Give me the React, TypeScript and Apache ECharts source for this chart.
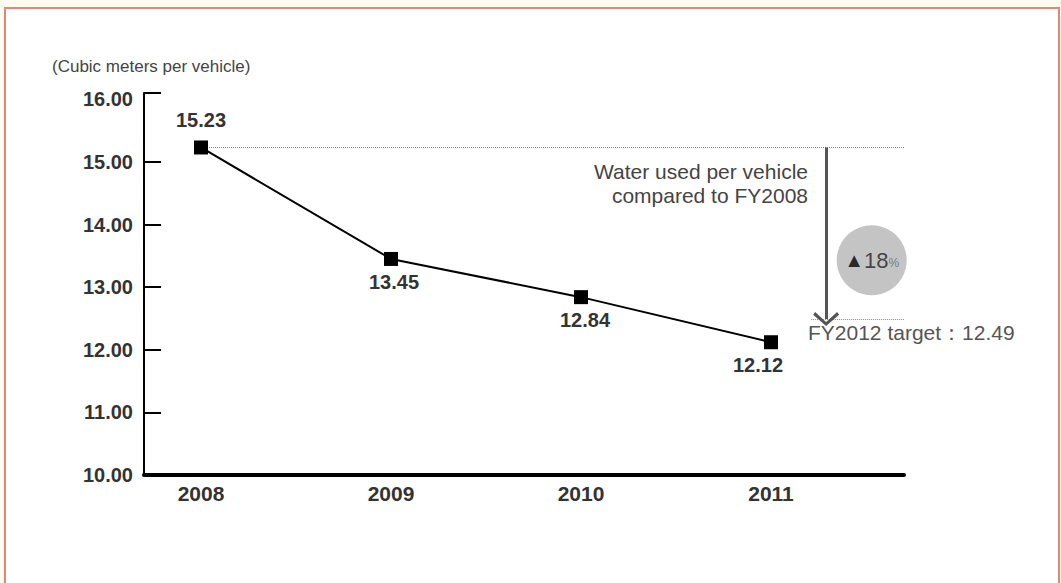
import React, { useEffect, useRef } from "react";
import * as echarts from "echarts";

const years = [2008, 2009, 2010, 2011];
const water = [15.23, 13.45, 12.84, 12.12];
const yTicks = [10, 11, 12, 13, 14, 15, 16];
const baseValue = 15.23;
const targetValue = 12.49;
const reductionPct = "18";
const unitLabel = "(Cubic meters per vehicle)";
const noteLines = ["Water used per vehicle", "compared to FY2008"];
const targetLabel = "FY2012 target\uFF1A12.49";

const FONT = '"Liberation Sans", Arial, Helvetica, sans-serif';

export default function App() {
  const ref = useRef<HTMLDivElement>(null);
  useEffect(() => {
    if (!ref.current) return;
    const chart = echarts.init(ref.current, undefined, { renderer: "svg" });
    const arrowX = 2011.29;
    const chevron = "path://M13 0 L26 11 L24 13.5 L13 4 L2 13.5 L0 11 Z";
    const labelOffsets = [[0, 0], [3, 0], [4, 0], [-13, 0]];
    chart.setOption({
      animation: false,
      backgroundColor: "#fffbef",
      textStyle: { fontFamily: FONT },
      grid: { left: 144, right: 157, top: 93, bottom: 108 },
      graphic: [
        {
          type: "rect",
          z: -10,
          silent: true,
          shape: { x: 5, y: 8, width: 1054, height: 600 },
          style: { fill: "#ffffff", stroke: "#e8847c", lineWidth: 2 },
        },
        {
          type: "text",
          x: 52,
          y: 58,
          style: { text: unitLabel, fontSize: 17, fill: "#444", fontFamily: FONT },
        },
        {
          type: "text",
          x: 808,
          y: 159,
          style: {
            text: noteLines.join("\n"),
            fontSize: 21,
            lineHeight: 24,
            fill: "#444",
            align: "right",
            fontFamily: FONT,
          },
        },
        {
          type: "text",
          x: 808,
          y: 322,
          style: { text: targetLabel, fontSize: 21, fill: "#555", fontFamily: FONT },
        },
      ],
      xAxis: {
        type: "value",
        min: 2007.7,
        max: 2011.7,
        splitLine: { show: false },
        axisTick: { show: false },
        axisLine: { onZero: false, lineStyle: { color: "#000", width: 4 } },
        axisLabel: {
          customValues: years,
          formatter: (v: number) => String(v),
          color: "#333",
          fontSize: 21,
          fontWeight: "bold",
          margin: 8,
          fontFamily: FONT,
        },
      },
      yAxis: {
        type: "value",
        min: 10,
        max: 16.1,
        splitLine: { show: false },
        axisLine: { show: true, onZero: false, lineStyle: { color: "#000", width: 2 } },
        axisTick: {
          show: true,
          inside: true,
          length: 17,
          customValues: [11, 12, 13, 14, 15, 16.1],
          lineStyle: { color: "#000", width: 2 },
        },
        axisLabel: {
          customValues: yTicks,
          formatter: (v: number) => v.toFixed(2),
          color: "#333",
          fontSize: 20,
          fontWeight: "bold",
          margin: 11,
          fontFamily: FONT,
        },
      },
      series: [
        {
          type: "line",
          clip: false,
          z: 5,
          data: years.map((y, i) => ({
            value: [y, water[i]],
            label:
              i === 0
                ? { position: "top", distance: 10 }
                : { position: "bottom", distance: 6, offset: labelOffsets[i] },
          })),
          symbol: "rect",
          symbolSize: 14,
          itemStyle: { color: "#000" },
          lineStyle: { color: "#000", width: 2 },
          label: {
            show: true,
            formatter: (p: any) => p.value[1].toFixed(2),
            color: "#333",
            fontSize: 20,
            fontWeight: "bold",
            fontFamily: FONT,
          },
          markLine: {
            silent: true,
            symbol: "none",
            label: { show: false },
            lineStyle: { type: "dotted", color: "#888", width: 1 },
            data: [
              [{ coord: [2008, baseValue] }, { coord: [2011.7, baseValue] }],
              [{ coord: [2011.21, targetValue] }, { coord: [2011.7, targetValue] }],
              [
                {
                  coord: [arrowX, baseValue],
                  symbol: "none",
                  lineStyle: { type: "solid", color: "#555", width: 3 },
                },
                { coord: [arrowX, targetValue], symbol: chevron, symbolSize: [26, 14] },
              ],
            ],
          },
        },
        {
          type: "scatter",
          z: 3,
          clip: false,
          data: [[2011.53, 13.43]],
          symbol: "circle",
          symbolSize: 70,
          itemStyle: { color: "#b5b5b5" },
          label: {
            show: true,
            position: "inside",
            formatter: () => "{t|\u25B2}{a|" + reductionPct + "}{b|%}",
            rich: {
              t: { fontSize: 20, color: "#000", fontFamily: FONT },
              a: { fontSize: 22, color: "#222", fontFamily: FONT },
              b: { fontSize: 12, color: "#666", fontFamily: FONT, padding: [6, 0, 0, 0] },
            },
          },
        },
      ],
    });
    return () => chart.dispose();
  }, []);
  return (
    <div
      ref={ref}
      style={{ position: "fixed", left: 0, top: 0, width: 1061, height: 583 }}
    />
  );
}
